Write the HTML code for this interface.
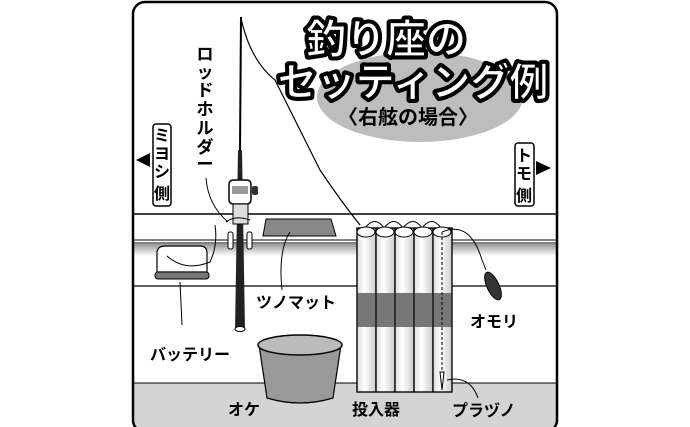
<!DOCTYPE html>
<html><head><meta charset="utf-8"><style>
body{margin:0;background:#fff}
svg{display:block}
text{font-family:"Liberation Sans","Noto Sans CJK JP",sans-serif;font-weight:bold}
</style></head><body>
<svg width="690" height="427" viewBox="0 0 690 427" xmlns="http://www.w3.org/2000/svg">
<defs>
<linearGradient id="g1" x1="0" y1="0" x2="0" y2="1"><stop offset="0" stop-color="#999"/><stop offset="1" stop-color="#fff"/></linearGradient>
<linearGradient id="tb" x1="0" x2="1"><stop offset="0" stop-color="#ddd"/><stop offset=".4" stop-color="#fff"/><stop offset="1" stop-color="#ccc"/></linearGradient>
<clipPath id="fr"><rect x="133" y="2" width="424" height="430" rx="12"/></clipPath>
</defs>
<g clip-path="url(#fr)">
<rect x="133" y="2" width="424" height="430" fill="#fff"/>
<line x1="133" y1="214" x2="557" y2="214" stroke="#000" stroke-width="1.5"/>
<line x1="133" y1="240" x2="557" y2="240" stroke="#000" stroke-width="1"/>
<line x1="133" y1="243" x2="557" y2="243" stroke="#000" stroke-width="1"/>
<rect x="133" y="244" width="424" height="12" fill="url(#g1)"/>
<line x1="133" y1="286" x2="557" y2="286" stroke="#000" stroke-width="1.2"/>
<rect x="133" y="383" width="424" height="50" fill="#d4d4d4" stroke="#000" stroke-width="1"/>
</g>
<rect x="133" y="2" width="424" height="430" rx="12" fill="none" stroke="#000" stroke-width="2.5"/>
<!-- title -->
<ellipse cx="420" cy="97" rx="103" ry="45" fill="#bdbdbd"/>
<g text-anchor="middle" stroke="#000" stroke-width="7" stroke-linejoin="round" fill="#000">
<text x="386" y="53" font-size="40">釣り座の</text><text x="413" y="96" font-size="39">セッティング例</text></g>
<g text-anchor="middle" fill="#fff" stroke="#000" stroke-width="1.2">
<text x="386" y="53" font-size="40">釣り座の</text><text x="413" y="96" font-size="39">セッティング例</text></g>
<text x="408" y="124" font-size="20" text-anchor="middle">〈右舷の場合〉</text>
<!-- side labels -->
<rect x="153" y="124" width="18" height="82" rx="3" fill="#fff" stroke="#000" stroke-width="1.5"/>
<text font-size="16" x="162" y="141" text-anchor="middle">ミ</text><text font-size="16" x="162" y="159" text-anchor="middle">ヨ</text><text font-size="16" x="162" y="177" text-anchor="middle">シ</text><text font-size="16" x="162" y="199" text-anchor="middle">側</text>
<polygon points="136,160 150,153 150,167" fill="#000"/>
<rect x="515" y="143" width="19" height="63" rx="3" fill="#fff" stroke="#000" stroke-width="1.5"/>
<text font-size="16" x="524" y="161" text-anchor="middle">ト</text><text font-size="16" x="524" y="179" text-anchor="middle">モ</text><text font-size="16" x="524" y="201" text-anchor="middle">側</text>
<polygon points="551,168 536,161 536,175" fill="#000"/>
<g font-size="17" text-anchor="middle"><text x="205" y="60">ロ</text><text x="205" y="78">ッ</text><text x="205" y="96">ド</text><text x="205" y="115">ホ</text><text x="205" y="134">ル</text><text x="205" y="153">ダ</text><text x="205" y="170">ー</text></g>
<path d="M206 178 Q208 205 228 222" fill="none" stroke="#000"/>
<!-- line -->
<path d="M241 18 Q250 60 275 80 Q300 130 320 170 Q340 200 360 225" fill="none" stroke="#000" stroke-width="1.2"/>
<!-- rod -->
<line x1="241" y1="17" x2="240" y2="150" stroke="#000" stroke-width="2"/>
<polygon points="238,150 242,150 245,330 235,330" fill="#222"/>
<ellipse cx="240" cy="329" rx="5" ry="2.5" fill="#fff" stroke="#000"/>
<rect x="229" y="180" width="22" height="24" rx="4" fill="#fff" stroke="#000" stroke-width="1.5"/>
<rect x="232" y="186" width="16" height="8" fill="#999"/>
<rect x="252" y="186" width="6" height="9" rx="2" fill="#333"/>
<rect x="233" y="204" width="15" height="20" fill="#ddd" stroke="#000"/>
<rect x="228" y="232" width="5" height="17" rx="2" fill="#fff" stroke="#000"/>
<rect x="247" y="232" width="5" height="17" rx="2" fill="#fff" stroke="#000"/>
<path d="M226 222 Q235 215 250 220" fill="none" stroke="#000"/>
<!-- battery -->
<path d="M157 252 Q158 246 165 246 L200 246 Q207 246 207 253 L207 272 L157 272 Z" fill="#fff" stroke="#000" stroke-width="1.2"/>
<rect x="155" y="272" width="54" height="7" rx="3" fill="#777" stroke="#000"/>
<path d="M167 256 Q185 272 210 262 Q218 245 215 225" fill="none" stroke="#000"/>
<path d="M180 282 L182 325" stroke="#000" fill="none"/>
<text x="150" y="360" font-size="16">バッテリー</text>
<!-- mat -->
<polygon points="266,219 331,219 336,236 263,236" fill="#888" stroke="#000"/>
<path d="M290 232 Q278 250 282 290" fill="none" stroke="#000"/>
<text x="256" y="308" font-size="16">ツノマット</text>
<!-- bucket -->
<path d="M259 345 L267 398 Q300 408 333 398 L341 345 Z" fill="#999" stroke="#000" stroke-width="1.2"/>
<ellipse cx="300" cy="345" rx="42" ry="10" fill="#bbb" stroke="#000" stroke-width="1.5"/>
<text x="228" y="415" font-size="16">オケ</text>
<!-- tubes -->
<path d="M365 228 Q375 215 384 228 Q394 215 403 228 Q413 215 422 228 Q432 215 441 228" fill="none" stroke="#000"/>
<g stroke="#000" stroke-width="1.2">
<rect x="357" y="228" width="19" height="164" fill="url(#tb)"/>
<rect x="376" y="228" width="19" height="164" fill="url(#tb)"/>
<rect x="395" y="228" width="19" height="164" fill="url(#tb)"/>
<rect x="414" y="228" width="19" height="164" fill="url(#tb)"/>
<rect x="433" y="228" width="19" height="164" fill="url(#tb)"/>
</g>
<rect x="357" y="293" width="95" height="34" fill="#777"/>
<g fill="none" stroke="#000" stroke-width="1.2">
<line x1="376" y1="228" x2="376" y2="392"/><line x1="395" y1="228" x2="395" y2="392"/><line x1="414" y1="228" x2="414" y2="392"/><line x1="433" y1="228" x2="433" y2="392"/>
<rect x="357" y="228" width="95" height="164"/>
</g>
<g fill="#fff" stroke="#000"><ellipse cx="366" cy="232" rx="9" ry="5"/><ellipse cx="385" cy="232" rx="9" ry="5"/><ellipse cx="404" cy="232" rx="9" ry="5"/><ellipse cx="423" cy="232" rx="9" ry="5"/><ellipse cx="442" cy="232" rx="9" ry="5"/></g>
<line x1="442" y1="232" x2="442" y2="392" stroke="#000" stroke-dasharray="3,2"/>
<path d="M440 372 L442 390 L444 372 Z" fill="#fff" stroke="#000"/>
<path d="M442 232 Q470 220 482 260 L486 270" fill="none" stroke="#000"/>
<ellipse cx="493" cy="286" rx="6" ry="15" transform="rotate(-25 493 286)" fill="#333" stroke="#000"/>
<text x="470" y="327" font-size="16">オモリ</text>
<path d="M447 380 Q470 375 478 398" fill="none" stroke="#000"/>
<text x="352" y="415" font-size="16">投入器</text>
<text x="452" y="416" font-size="16">プラヅノ</text>
</svg>
</body></html>
